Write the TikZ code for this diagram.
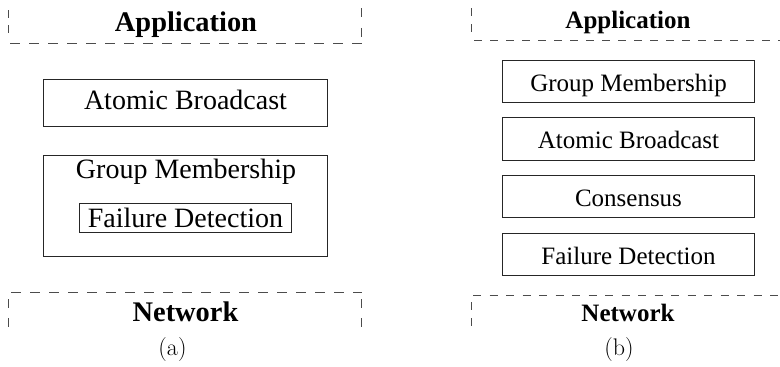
\documentclass[tikz,border=0pt]{standalone}
\usepackage{fontspec}
\newfontfamily\tnr{Liberation Serif}
\begin{document}
\begin{tikzpicture}[x=1pt,y=-1pt,
  boxline/.style={draw=black!85, line width=0.8pt},
  dashline/.style={draw=black!70, line width=0.8pt},
  bigtext/.style={font=\tnr\fontsize{28}{30}\selectfont},
  smalltext/.style={font=\tnr\fontsize{25}{27}\selectfont},
  bigtitle/.style={font=\tnr\bfseries\fontsize{28.4}{30}\selectfont, anchor=base, inner sep=0pt},
  smalltitle/.style={font=\tnr\bfseries\fontsize{25}{27}\selectfont, anchor=base, inner sep=0pt},
  caption/.style={font=\fontsize{24}{26}\selectfont, anchor=base, inner sep=0pt},
  leftbox/.style={boxline, bigtext, inner sep=0pt, minimum width=284.4pt},
  rightbox/.style={boxline, smalltext, inner sep=0pt, minimum width=251.6pt,
    minimum height=42.3pt, text height=20pt, text depth=0pt},
]
\useasboundingbox (0,0) rectangle (780,367);

% ---------- (a) ----------
% application layer (open dashed box)
\coordinate (aAtl) at (8.3,10);
\coordinate (aAbl) at (8.3,34);
\coordinate (aAtr) at (361.7,8.3);
\coordinate (aAbr) at (361.7,37);
\coordinate (aAh1) at (8.3,43.3);
\coordinate (aAh2) at (361.7,43.3);
\draw[dashline, dash pattern=on 8pt off 7pt] (aAtl) -- (aAbl);
\draw[dashline, dash pattern=on 9pt off 10.5pt] (aAtr) -- (aAbr);
\draw[dashline, dash pattern=on 10pt off 9pt] (10,43.3) -- (aAh2);
\node[bigtitle] (aApp) at (186,31.7) {Application};

% atomic broadcast
\node[leftbox, minimum height=47.4pt, text height=19.6pt, text depth=7pt]
  (aAB) at (185.5,103) {Atomic Broadcast};

% group membership with failure detection inside
\node[boxline, inner sep=0pt, minimum width=284.4pt, minimum height=101.7pt]
  (aGM) at (185.5,205.85) {};
\node[font=\tnr\fontsize{28}{30}\selectfont, anchor=base, inner sep=0pt]
  (aGMt) at (186,178) {Group Membership};
\node[boxline, bigtext, inner sep=0pt, minimum width=212.4pt, minimum height=29.4pt,
  text height=18pt, text depth=0pt] (aFD) at (185.5,218) {Failure Detection};

% network layer
\coordinate (aNh1) at (11,292.3);
\coordinate (aNh2) at (361.7,292.3);
\draw[dashline, dash pattern=on 10pt off 9pt] (aNh1) -- (aNh2);
\coordinate (aNl1) at (8.3,299);
\coordinate (aNl2) at (8.3,327);
\coordinate (aNr1) at (361.7,299);
\coordinate (aNr2) at (361.7,327);
\draw[dashline, dash pattern=on 9pt off 10pt] (aNl1) -- (aNl2);
\draw[dashline, dash pattern=on 9pt off 10pt] (aNr1) -- (aNr2);
\node[bigtitle] (aNet) at (185.5,321.7) {Network};
\node[caption] (aCap) at (172.5,355) {(a)};

% ---------- (b) ----------
\coordinate (bAt) at (471.7,8);
\coordinate (bAb) at (471.7,33);
\coordinate (bAh1) at (474,40);
\coordinate (bAh2) at (780,40);
\draw[dashline, dash pattern=on 8pt off 8pt] (bAt) -- (bAb);
\draw[dashline, dash pattern=on 8pt off 8pt] (bAh1) -- (bAh2);
\node[smalltitle] (bApp) at (628,28.3) {Application};

\node[rightbox] (bGM) at (628.5,81.2)  {Group Membership};
\node[rightbox] (bAB) at (628.5,138.8) {Atomic Broadcast};
\node[rightbox] (bCo) at (628.5,196.2) {Consensus};
\node[rightbox] (bFD) at (628.5,254.2) {Failure Detection};

\coordinate (bNh1) at (473,295.5);
\coordinate (bNh2) at (780,295.5);
\coordinate (bNt) at (471.7,302);
\coordinate (bNb) at (471.7,327);
\draw[dashline, dash pattern=on 8pt off 8.5pt] (bNh1) -- (bNh2);
\draw[dashline, dash pattern=on 8pt off 8pt] (bNt) -- (bNb);
\node[smalltitle] (bNet) at (628,321.7) {Network};
\node[caption] (bCap) at (619,355) {(b)};
\end{tikzpicture}
\end{document}
